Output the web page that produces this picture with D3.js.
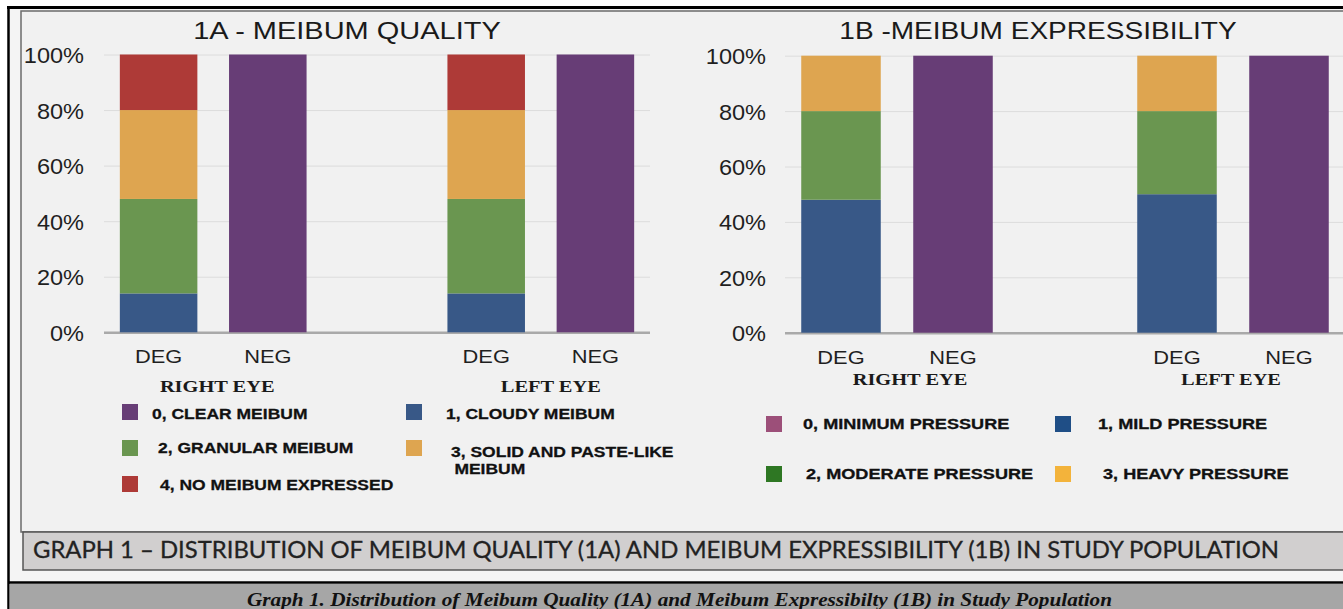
<!DOCTYPE html>
<html lang="en">
<head>
  <meta charset="UTF-8">
  <title>Meibum Quality and Expressibility</title>
  <script src="https://cdn.jsdelivr.net/npm/d3@7"></script>
  <style>
    body { margin: 0; background: #fff; }
    svg text { font-family: "Liberation Sans", Arial, Helvetica, sans-serif; }
  </style>
</head>
<body>
  <div id="chart"></div>

  <script>
    const width = 1343,
      height = 609;

    // five bar slots, the middle one stays empty to split the two eyes
    const slots = ["R-DEG", "R-NEG", "gap", "L-DEG", "L-NEG"];
    const slotLabels = ["DEG", "NEG", "", "DEG", "NEG"];
    const barSlots = ["R-DEG", "R-NEG", "L-DEG", "L-NEG"];
    const eyes = ["RIGHT EYE", "LEFT EYE"];
    const yTicks = [0, 20, 40, 60, 80, 100];

    // 1A - meibum quality (% of eyes), one value per bar slot
    const qualityKeys = ["clear", "cloudy", "granular", "solid", "none"];
    const qualityLabels = ["0, CLEAR MEIBUM", "1, CLOUDY MEIBUM", "2, GRANULAR MEIBUM",
      "3, SOLID AND PASTE-LIKE\nMEIBUM", "4, NO MEIBUM EXPRESSED"];
    const qualityClear = [0, 100, 0, 100];
    const qualityCloudy = [14, 0, 14, 0];
    const qualityGranular = [34, 0, 34, 0];
    const qualitySolid = [32, 0, 32, 0];
    const qualityNone = [20, 0, 20, 0];

    // 1B - meibum expressibility (% of eyes)
    const exprKeys = ["minimum", "mild", "moderate", "heavy"];
    const exprLabels = ["0, MINIMUM PRESSURE", "1, MILD PRESSURE", "2, MODERATE PRESSURE", "3, HEAVY PRESSURE"];
    const exprMinimum = [0, 100, 0, 100];
    const exprMild = [48, 0, 50, 0];
    const exprModerate = [32, 0, 30, 0];
    const exprHeavy = [20, 0, 20, 0];

    const qualityRows = barSlots.map((s, i) => ({
      slot: s, clear: qualityClear[i], cloudy: qualityCloudy[i],
      granular: qualityGranular[i], solid: qualitySolid[i], none: qualityNone[i]
    }));
    const exprRows = barSlots.map((s, i) => ({
      slot: s, minimum: exprMinimum[i], mild: exprMild[i],
      moderate: exprModerate[i], heavy: exprHeavy[i]
    }));

    const svg = d3.select("#chart")
      .append("svg")
        .attr("width", width)
        .attr("height", height);

    // ---- frame ----
    svg.append("rect").attr("width", width).attr("height", height).attr("fill", "#fff");
    svg.append("rect").attr("x", 8).attr("y", 7).attr("width", width).attr("height", 577).attr("fill", "#f4f4f4");
    svg.append("rect")
      .attr("x", 21).attr("y", 11).attr("width", width).attr("height", 521)
      .attr("fill", "#f1f1f1").attr("stroke", "#6b6b6b").attr("stroke-width", 1.5);
    svg.append("line").attr("x1", 7).attr("x2", width).attr("y1", 7.5).attr("y2", 7.5)
      .attr("stroke", "#000").attr("stroke-width", 3);
    svg.append("line").attr("x1", 8.5).attr("x2", 8.5).attr("y1", 6).attr("y2", height)
      .attr("stroke", "#000").attr("stroke-width", 2.5);

    // caption box
    svg.append("rect")
      .attr("x", 23).attr("y", 532).attr("width", width).attr("height", 38)
      .attr("fill", "#d1cfcf").attr("stroke", "#555").attr("stroke-width", 1.5);
    svg.append("text")
      .attr("x", 33).attr("y", 558)
      .attr("textLength", 1246).attr("lengthAdjust", "spacingAndGlyphs")
      .style("font-family", "Lato, 'Open Sans', sans-serif")
      .style("font-size", "23px")
      .attr("fill", "#222")
      .attr("stroke", "#222").attr("stroke-width", 0.3)
      .text("GRAPH 1 \u2013 DISTRIBUTION OF MEIBUM QUALITY (1A) AND MEIBUM EXPRESSIBILITY (1B) IN STUDY POPULATION");

    // bottom figure caption
    svg.append("line").attr("x1", 8).attr("x2", width).attr("y1", 582.5).attr("y2", 582.5)
      .attr("stroke", "#000").attr("stroke-width", 2.5);
    svg.append("rect").attr("x", 9.5).attr("y", 584).attr("width", width).attr("height", 25).attr("fill", "#a6a6a6");
    svg.append("text")
      .attr("x", 247).attr("y", 606)
      .attr("textLength", 865).attr("lengthAdjust", "spacingAndGlyphs")
      .style("font-family", "'Liberation Serif', 'DejaVu Serif', serif")
      .style("font-size", "19px")
      .style("font-weight", "bold")
      .style("font-style", "italic")
      .attr("fill", "#111")
      .text("Graph 1. Distribution of Meibum Quality (1A) and Meibum Expressibilty (1B) in Study Population");

    // ---- panels ----
    const panels = [
      {
        title: "1A - MEIBUM QUALITY", titleX: 347, titleStretch: 1.26,
        xRange: [104, 650], yRange: [332.3, 54.5], labelPad: 20,
        keys: qualityKeys, rows: qualityRows,
        colors: ["#673d76", "#385887", "#6a9650", "#dea550", "#ae3a37"],
        eyeY: 392, eyeDx: [4, 10],
        legend: {
          labels: qualityLabels,
          colors: ["#673d76", "#385887", "#6a9650", "#dea550", "#ae3a37"],
          // square x, square y, text x, text baseline
          pos: [[122, 404, 152, 419], [406, 404, 446, 419], [122, 440, 158, 453],
                [406, 440, 451, 457], [122, 476, 160, 490]],
          size: 15.5, stretch: 1.13
        }
      },
      {
        title: "1B -MEIBUM EXPRESSIBILITY", titleX: 1038, titleStretch: 1.22,
        xRange: [785, 1345], yRange: [332.7, 55.7], labelPad: 19,
        keys: exprKeys, rows: exprRows,
        colors: ["#673d76", "#385887", "#6a9650", "#dea550"],
        eyeY: 385, eyeDx: [13, -2],
        legend: {
          labels: exprLabels,
          colors: ["#9c4f79", "#1f4e86", "#2e7723", "#f3b33b"],
          pos: [[766, 416, 803, 429], [1055, 416, 1098, 429],
                [766, 466, 806, 479], [1055, 466, 1103, 479]],
          size: 14.5, stretch: 1.25
        }
      }
    ];

    panels.forEach(p => {
      const g = svg.append("g");

      const x = d3.scaleBand()
        .domain(slots)
        .range(p.xRange)
        .paddingInner(0.29)
        .paddingOuter(0.145);

      const y = d3.scaleLinear()
        .domain([0, 100])
        .range(p.yRange);

      // title
      g.append("text")
        .attr("transform", `translate(${p.titleX},39) scale(${p.titleStretch},1)`)
        .attr("text-anchor", "middle")
        .style("font-size", "23px")
        .attr("fill", "#1a1a1a")
        .text(p.title);

      // gridlines + y labels
      const yAxis = g.append("g")
        .attr("transform", `translate(${p.xRange[0]},0)`)
        .call(d3.axisLeft(y)
          .tickValues(yTicks)
          .tickSize(-(p.xRange[1] - p.xRange[0]))
          .tickFormat(d => d + "%"));
      yAxis.select(".domain").remove();
      yAxis.selectAll(".tick line")
        .attr("stroke", d => d === 0 ? "#a9a9a9" : "#dcdcdc")
        .attr("stroke-width", d => d === 0 ? 2.5 : 1);
      yAxis.selectAll(".tick text")
        .attr("x", null)
        .attr("dy", null)
        .attr("transform", `translate(${-p.labelPad},8) scale(1.07,1)`)
        .style("font-size", "22px")
        .style("font-family", "'Liberation Sans', Arial, sans-serif")
        .attr("fill", "#1f1f1f");

      // stacked bars
      const series = d3.stack().keys(p.keys)(p.rows);
      g.selectAll("g.layer")
        .data(series)
        .join("g")
          .attr("class", "layer")
          .attr("fill", (d, i) => p.colors[i])
        .selectAll("rect")
        .data(d => d.filter(v => v[1] > v[0]))
        .join("rect")
          .attr("x", d => x(d.data.slot))
          .attr("width", x.bandwidth())
          .attr("y", d => y(d[1]))
          .attr("height", d => y(d[0]) - y(d[1]));

      // x labels
      const xAxis = g.append("g")
        .attr("transform", `translate(0,${p.yRange[0]})`)
        .call(d3.axisBottom(x).tickSize(0).tickFormat((d, i) => slotLabels[i]));
      xAxis.select(".domain").remove();
      xAxis.selectAll(".tick text")
        .attr("y", null)
        .attr("dy", null)
        .attr("transform", "translate(0,31) scale(1.15,1)")
        .style("font-size", "19px")
        .style("font-family", "'Liberation Sans', Arial, sans-serif")
        .attr("fill", "#1f1f1f");

      // eye labels under each pair
      const eyePairs = [["R-DEG", "R-NEG"], ["L-DEG", "L-NEG"]];
      g.selectAll("text.eye")
        .data(eyes)
        .join("text")
          .attr("class", "eye")
          .attr("transform", (d, i) => {
            const cx = (x(eyePairs[i][0]) + x(eyePairs[i][1]) + x.bandwidth()) / 2 + p.eyeDx[i];
            return `translate(${cx},${p.eyeY}) scale(1.2,1)`;
          })
          .attr("text-anchor", "middle")
          .style("font-family", "'Liberation Serif', 'Times New Roman', serif")
          .style("font-weight", "bold")
          .style("font-size", "17px")
          .attr("fill", "#1a1a1a")
          .text(d => d);

      // legend
      const L = p.legend;
      const items = g.selectAll("g.legend")
        .data(L.labels)
        .join("g")
          .attr("class", "legend");
      items.append("rect")
        .attr("x", (d, i) => L.pos[i][0])
        .attr("y", (d, i) => L.pos[i][1])
        .attr("width", 16)
        .attr("height", 16)
        .attr("fill", (d, i) => L.colors[i]);
      items.append("text")
        .attr("transform", (d, i) => `translate(${L.pos[i][2]},${L.pos[i][3]}) scale(${L.stretch},1)`)
        .style("font-size", L.size + "px")
        .style("font-weight", "bold")
        .attr("fill", "#111")
        .attr("stroke", "#111").attr("stroke-width", 0.3)
        .selectAll("tspan")
        .data(d => d.split("\n"))
        .join("tspan")
          .attr("x", (d, j) => j ? 3 : 0)
          .attr("dy", (d, j) => j ? 17 : 0)
          .text(d => d);
    });
  </script>
</body>
</html>
